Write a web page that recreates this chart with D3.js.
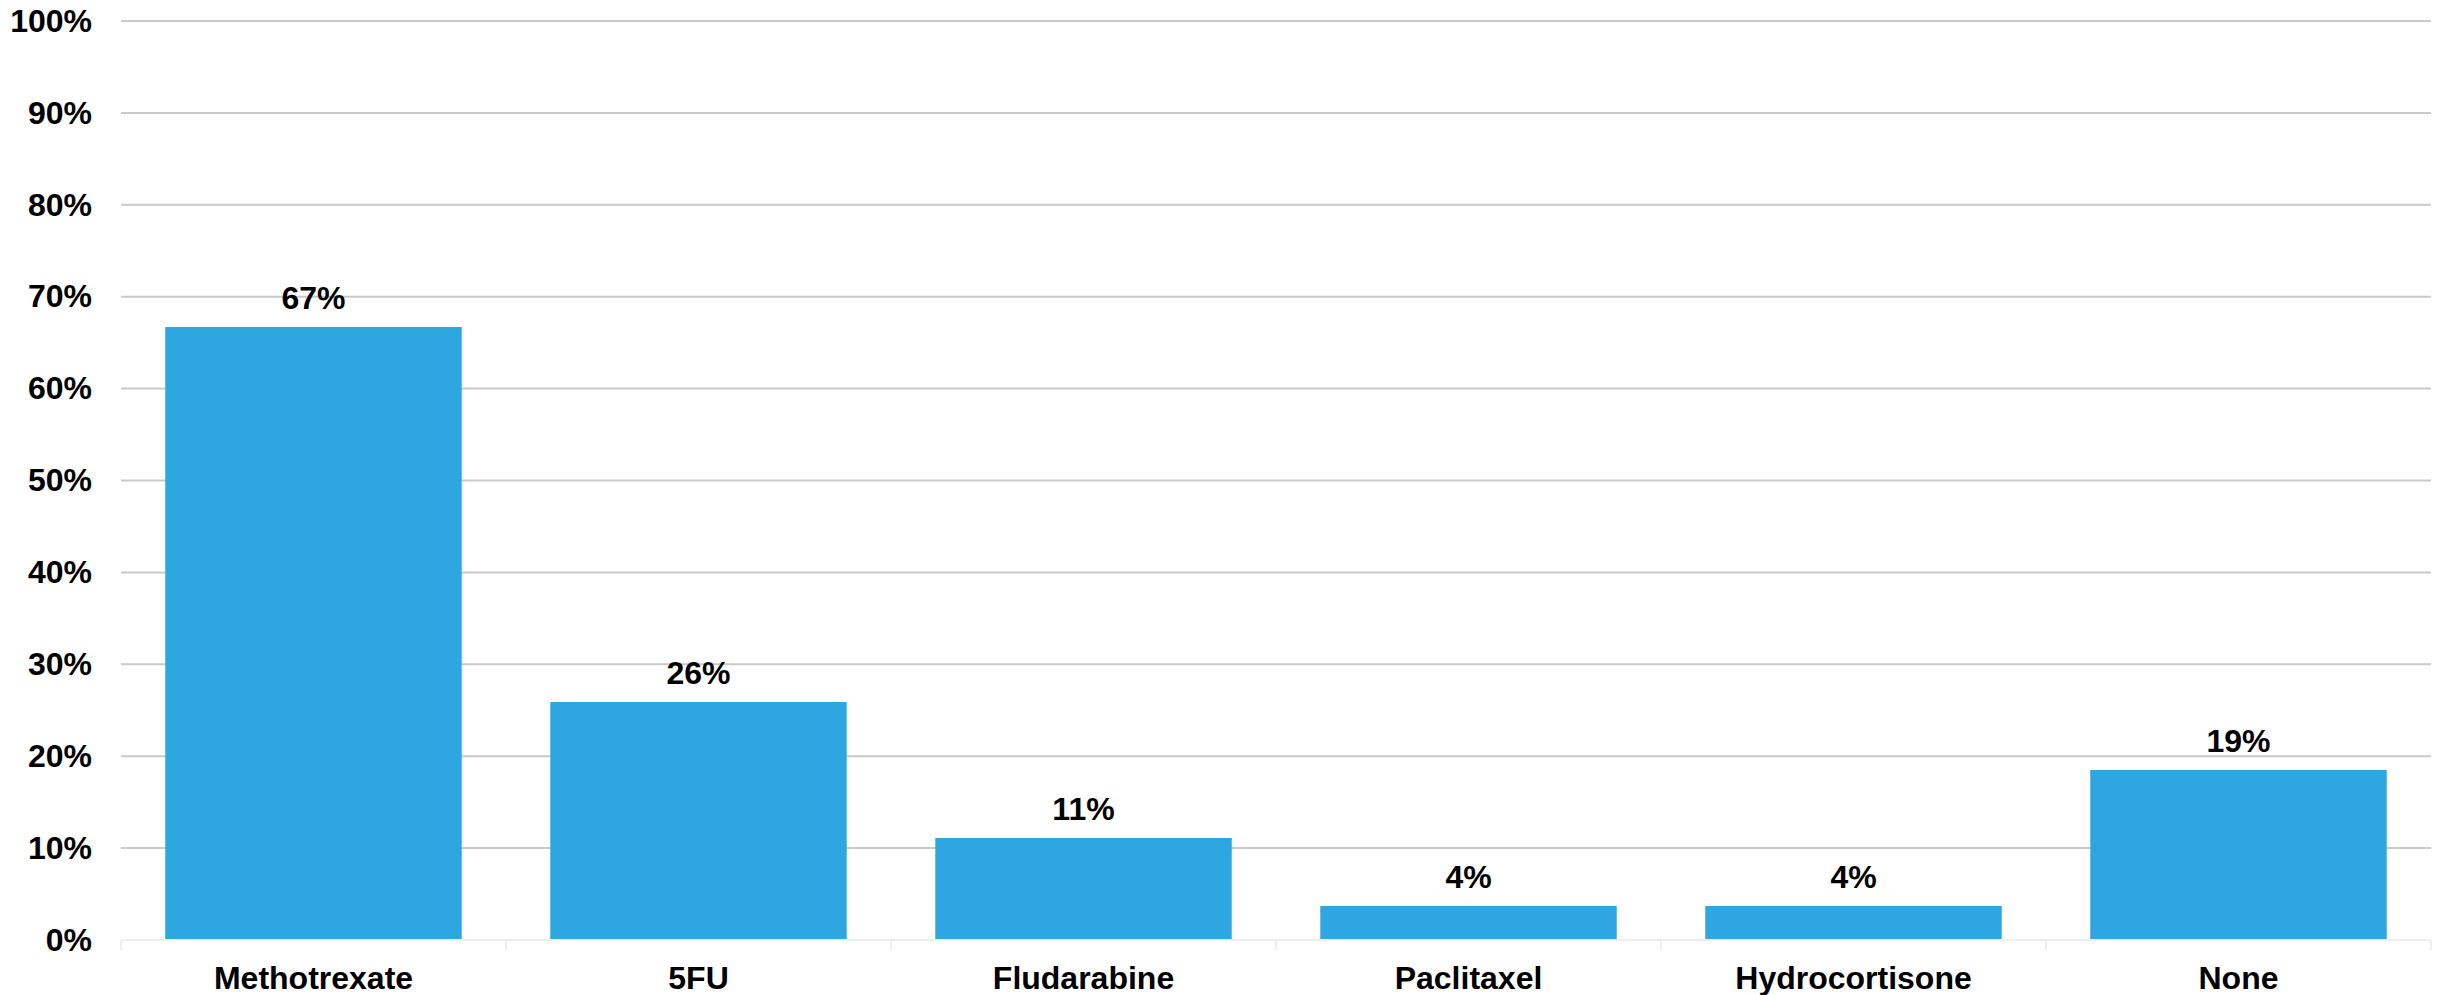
<!DOCTYPE html>
<html>
<head>
<meta charset="utf-8">
<script src="https://cdn.jsdelivr.net/npm/d3@7"></script>
<style>
  body { margin: 0; background: #fff; }
  text { font-family: "Liberation Sans", Arial, sans-serif; font-weight: bold; fill: #000; }
</style>
</head>
<body>
<script>
// data
const categories = ["Methotrexate", "5FU", "Fludarabine", "Paclitaxel", "Hydrocortisone", "None"];
const values = [66.7, 25.9, 11.1, 3.7, 3.7, 18.5];
const valueLabels = ["67%", "26%", "11%", "4%", "4%", "19%"];
const yTicks = [0, 10, 20, 30, 40, 50, 60, 70, 80, 90, 100];

const outerWidth = 2445, outerHeight = 995;
const margin = {top: 21, right: 14, bottom: 55, left: 121};
const width = outerWidth - margin.left - margin.right;
const height = outerHeight - margin.top - margin.bottom;

const svg = d3.select("body").append("svg")
    .attr("width", outerWidth)
    .attr("height", outerHeight)
  .append("g")
    .attr("transform", "translate(" + margin.left + "," + margin.top + ")");

const x = d3.scaleBand().domain(categories).range([0, width]).paddingInner(0.23).paddingOuter(0.115);
const y = d3.scaleLinear().domain([0, 100]).range([height, 0]);

// gridlines (except 0)
svg.append("g")
  .selectAll("line")
  .data(yTicks.filter(d => d > 0))
  .join("line")
    .attr("x1", 0).attr("x2", width)
    .attr("y1", d => y(d)).attr("y2", d => y(d))
    .attr("stroke", "#c9c9c9")
    .attr("stroke-width", 2);

// y axis labels
const yAxis = d3.axisLeft(y).tickValues(yTicks).tickFormat(d => d + "%").tickSize(0).tickPadding(29);
svg.append("g").call(yAxis)
  .call(g => g.select(".domain").remove())
  .selectAll("text")
    .style("font-size", "32px");

// bars
const data = categories.map((c, i) => ({cat: c, val: values[i], label: valueLabels[i]}));
svg.selectAll(".bar")
  .data(data)
  .join("rect")
    .attr("class", "bar")
    .attr("x", d => x(d.cat))
    .attr("y", d => y(d.val))
    .attr("width", x.bandwidth())
    .attr("height", d => y(0) - y(d.val))
    .attr("fill", "#2ea6df");

// baseline with light ticks at band edges
const base = svg.append("g").attr("transform", "translate(0," + height + ")");
base.append("line")
    .attr("x1", 0).attr("x2", width)
    .attr("stroke", "#eeeeee").attr("stroke-width", 2);
base.selectAll(".sep")
  .data(d3.range(categories.length + 1))
  .join("line")
    .attr("class", "sep")
    .attr("x1", i => i * width / categories.length)
    .attr("x2", i => i * width / categories.length)
    .attr("y1", 0).attr("y2", 10)
    .attr("stroke", "#eeeeee").attr("stroke-width", 2);

// category labels
const xAxis = d3.axisBottom(x).tickSize(0).tickPadding(26);
base.append("g").call(xAxis)
  .call(g => g.select(".domain").remove())
  .selectAll("text")
    .style("font-size", "32px");

// value labels
svg.selectAll(".val")
  .data(data)
  .join("text")
    .attr("class", "val")
    .attr("x", d => x(d.cat) + x.bandwidth() / 2)
    .attr("y", d => y(d.val) - 18)
    .attr("text-anchor", "middle")
    .style("font-size", "32px")
    .text(d => d.label);
</script>
</body>
</html>
